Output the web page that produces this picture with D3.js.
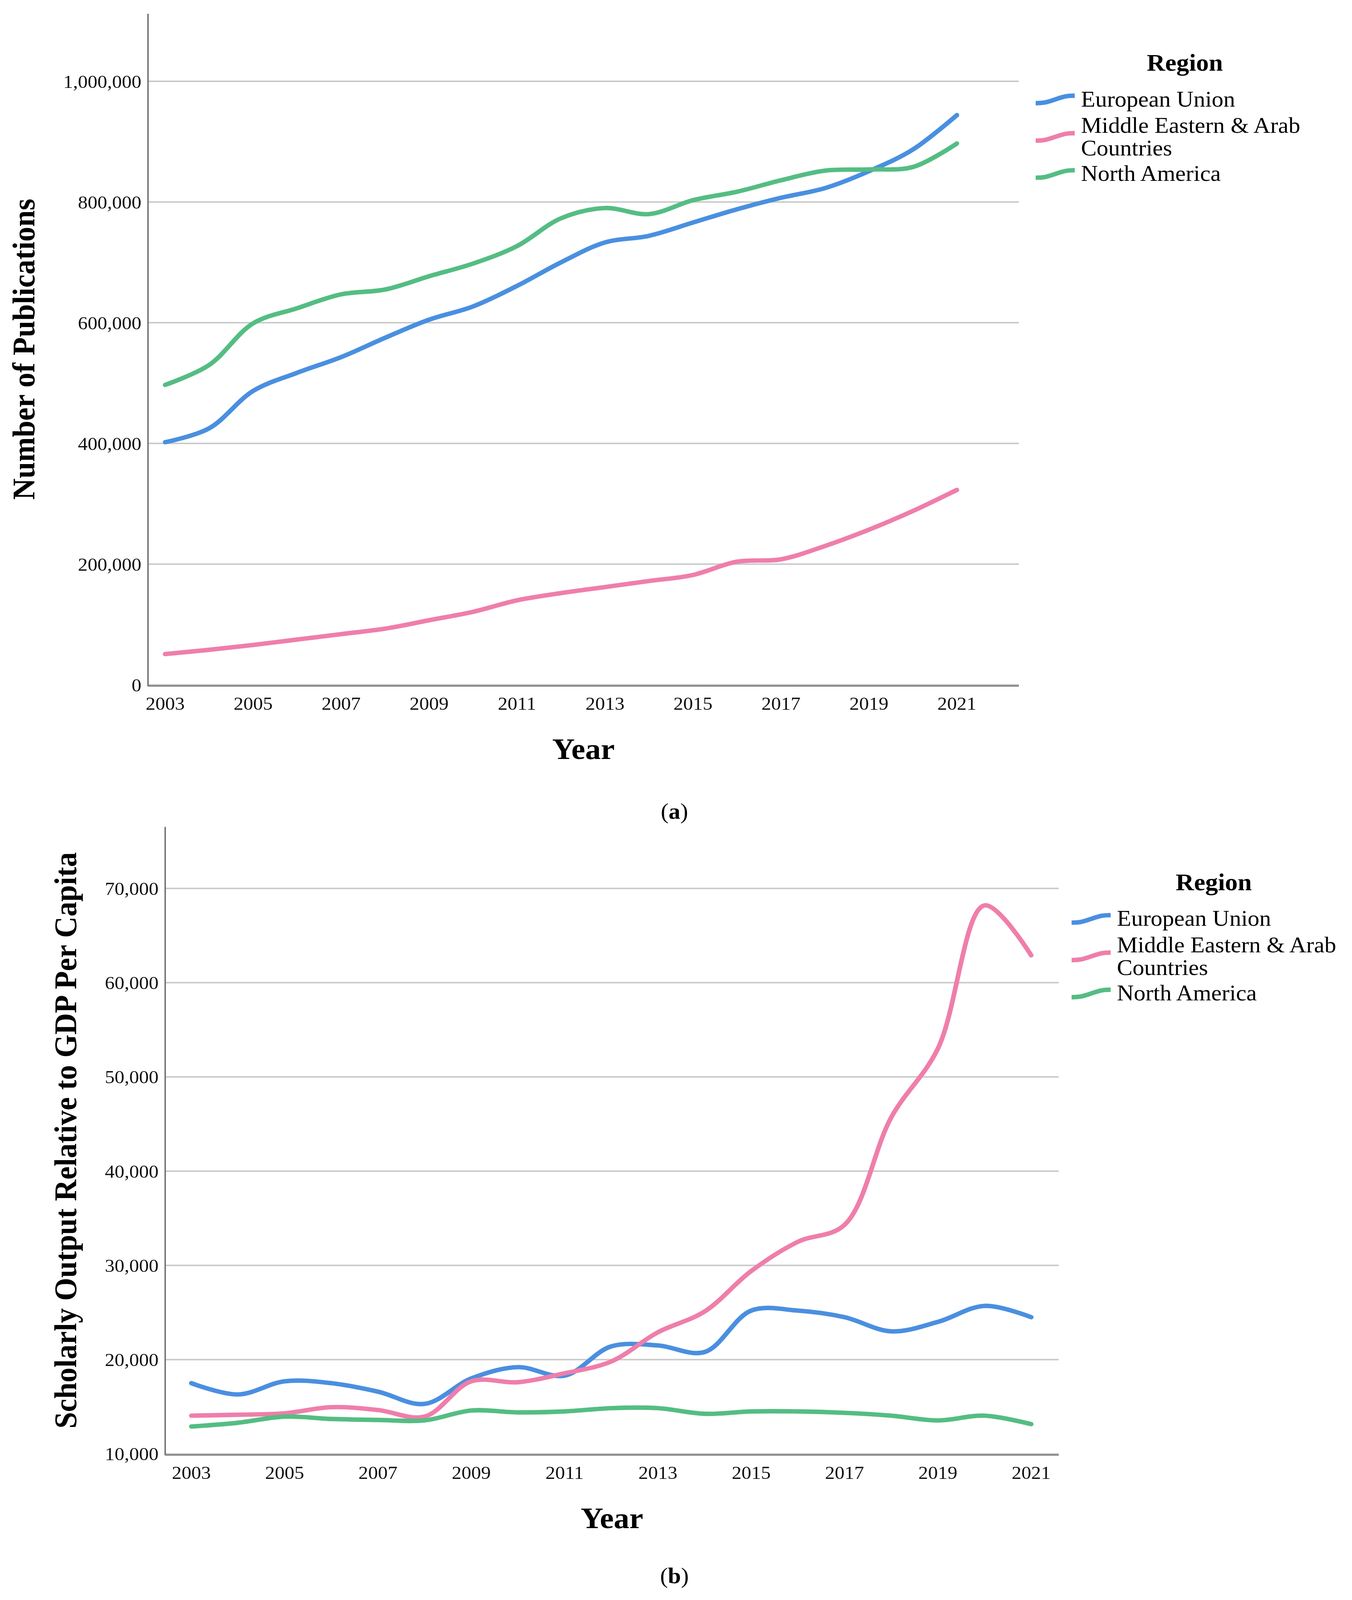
<!DOCTYPE html>
<html>
<head>
<meta charset="utf-8">
<script src="https://cdn.jsdelivr.net/npm/d3@7.9.0/dist/d3.min.js"></script>
<style>
  html, body { margin: 0; padding: 0; background: #fff; overflow: hidden; width: 100%; height: 100%; }
  svg { display: block; width: 100vw; height: 100vh; font-family: "Liberation Serif", "Times New Roman", serif; }
</style>
</head>
<body>
<svg id="chart" viewBox="0 0 3462 4313" preserveAspectRatio="none"></svg>
<script>
// data
const years = [2003, 2004, 2005, 2006, 2007, 2008, 2009, 2010, 2011, 2012,
               2013, 2014, 2015, 2016, 2017, 2018, 2019, 2020, 2021];
const regions = ["European Union", "Middle Eastern & Arab Countries", "North America"];

// (a) number of publications
const pubsEU = [402000, 425000, 487000, 517000, 543000, 575000, 605000, 627000, 661000, 700000,
                733000, 744000, 766000, 788000, 807000, 823000, 851000, 887000, 944000];
const pubsME = [51000, 58000, 66000, 75000, 84000, 93000, 107000, 121000, 140000, 152000,
                162000, 172000, 182000, 204000, 208000, 230000, 257000, 288000, 323000];
const pubsNA = [497000, 530000, 599000, 624000, 647000, 655000, 677000, 698000, 727000, 773000,
                790000, 780000, 803000, 817000, 836000, 852000, 854000, 858000, 897000];

// (b) scholarly output relative to GDP per capita
const gdpEU = [17500, 16300, 17700, 17500, 16600, 15300, 18000, 19200, 18300, 21400,
               21500, 20800, 25200, 25200, 24500, 23000, 24000, 25700, 24500];
const gdpME = [14050, 14150, 14300, 14950, 14650, 13950, 17700, 17600, 18550, 19800,
               22900, 25100, 29400, 32500, 34300, 45700, 53000, 68200, 62900];
const gdpNA = [12900, 13300, 13950, 13700, 13600, 13550, 14600, 14400, 14500, 14850,
               14850, 14250, 14500, 14500, 14350, 14050, 13550, 14050, 13150];

const xTickYears = [2003, 2005, 2007, 2009, 2011, 2013, 2015, 2017, 2019, 2021];
const pubTicks = [0, 200000, 400000, 600000, 800000, 1000000];
const gdpTicks = [10000, 20000, 30000, 40000, 50000, 60000, 70000];

const colors = ["#4a8fe0", "#ef7eab", "#54bd83"];

const svg = d3.select("#chart");
svg.append("rect").attr("width", 3462).attr("height", 4313).attr("fill", "#fff");

function drawPanel(o) {
  const g = svg.append("g");
  const x = d3.scaleLinear().domain(o.xDomain).range([o.left, o.right]);
  const y = d3.scaleLinear().domain(o.yDomain).range([o.bottom, o.top]);

  // gridlines
  g.selectAll(".grid")
    .data(o.yTicks)
    .enter().append("line")
    .attr("x1", o.left).attr("x2", o.right)
    .attr("y1", d => y(d)).attr("y2", d => y(d))
    .attr("stroke", "#c9c9c9")
    .attr("stroke-width", 4);

  // axis lines
  g.append("line")
    .attr("x1", o.left).attr("x2", o.left)
    .attr("y1", o.top).attr("y2", o.bottom + 4)
    .attr("stroke", "#6a6a6a").attr("stroke-width", 3.5);
  g.append("line")
    .attr("x1", o.left).attr("x2", o.right)
    .attr("y1", o.bottom + 3).attr("y2", o.bottom + 3)
    .attr("stroke", "#808080").attr("stroke-width", 4);

  // y tick labels
  g.selectAll(".ylab")
    .data(o.yTicks)
    .enter().append("text")
    .attr("x", o.left - 17)
    .attr("y", d => y(d))
    .attr("dy", "0.35em")
    .attr("text-anchor", "end")
    .attr("font-size", 50)
    .attr("fill", "#111")
    .text(d3.format(","));

  // x tick labels
  g.selectAll(".xlab")
    .data(xTickYears)
    .enter().append("text")
    .attr("x", d => x(d))
    .attr("y", o.xLabelY)
    .attr("text-anchor", "middle")
    .attr("font-size", 50)
    .attr("fill", "#111")
    .text(d => d);

  // axis titles
  g.append("text")
    .attr("x", (o.left + o.right) / 2)
    .attr("y", o.xTitleY)
    .attr("text-anchor", "middle")
    .attr("font-size", 80)
    .attr("font-weight", "bold")
    .text("Year");
  g.append("text")
    .attr("transform", `translate(${o.yTitleX},${(o.top + o.bottom) / 2}) rotate(-90)`)
    .attr("text-anchor", "middle")
    .attr("font-size", 80)
    .attr("font-weight", "bold")
    .text(o.yTitle);

  // lines
  const line = d3.line()
    .x((d, i) => x(years[i]))
    .y(d => y(d))
    .curve(d3.curveCatmullRom.alpha(0.5));

  g.selectAll(".series")
    .data(o.series)
    .enter().append("path")
    .attr("d", d => line(d))
    .attr("fill", "none")
    .attr("stroke", (d, i) => colors[i])
    .attr("stroke-width", 12)
    .attr("stroke-linecap", "round")
    .attr("stroke-linejoin", "round");

  // legend
  const lg = g.append("g").attr("transform", `translate(${o.legendX},${o.legendY})`);
  lg.append("text")
    .attr("x", o.legendTitleDx)
    .attr("y", 0)
    .attr("text-anchor", "middle")
    .attr("font-size", 65)
    .attr("font-weight", "bold")
    .text("Region");

  const swatch = d3.line().curve(d3.curveBasis);
  const swatchPts = [[0, 11], [22, 11], [50, 1], [78, -9], [100, -9]];
  const itemRows = [
    { lines: ["European Union"], base: [96], mid: 76 },
    { lines: ["Middle Eastern & Arab", "Countries"], base: [167, 228], mid: 177 },
    { lines: ["North America"], base: [297], mid: 277 }
  ];
  itemRows.forEach((r, i) => {
    lg.append("path")
      .attr("d", swatch(swatchPts))
      .attr("transform", `translate(0,${r.mid})`)
      .attr("fill", "none")
      .attr("stroke", colors[i])
      .attr("stroke-width", 12);
    r.lines.forEach((t, k) => {
      lg.append("text")
        .attr("x", 116)
        .attr("y", r.base[k])
        .attr("font-size", 60)
        .text(t);
    });
  });

  // panel caption
  const cap = svg.append("text")
    .attr("x", 1727)
    .attr("y", o.captionY)
    .attr("text-anchor", "middle")
    .attr("font-size", 60);
  cap.append("tspan").text("(");
  cap.append("tspan").attr("font-weight", "bold").text(o.caption);
  cap.append("tspan").text(")");
}

drawPanel({
  left: 379, right: 2609, top: 37, bottom: 1846,
  xDomain: [2002.61, 2022.41],
  yDomain: [0, 1112000],
  yTicks: pubTicks,
  series: [pubsEU, pubsME, pubsNA],
  yTitle: "Number of Publications",
  yTitleX: 88,
  xLabelY: 1913,
  xTitleY: 2046,
  legendX: 2652, legendY: 191, legendTitleDx: 382,
  caption: "a", captionY: 2207
});

drawPanel({
  left: 423, right: 2711, top: 2229, bottom: 3919,
  xDomain: [2002.44, 2021.59],
  yDomain: [10000, 76530],
  yTicks: gdpTicks,
  series: [gdpEU, gdpME, gdpNA],
  yTitle: "Scholarly Output Relative to GDP Per Capita",
  yTitleX: 195,
  xLabelY: 3987,
  xTitleY: 4119,
  legendX: 2744, legendY: 2400, legendTitleDx: 364,
  caption: "b", captionY: 4268
});
</script>
</body>
</html>
